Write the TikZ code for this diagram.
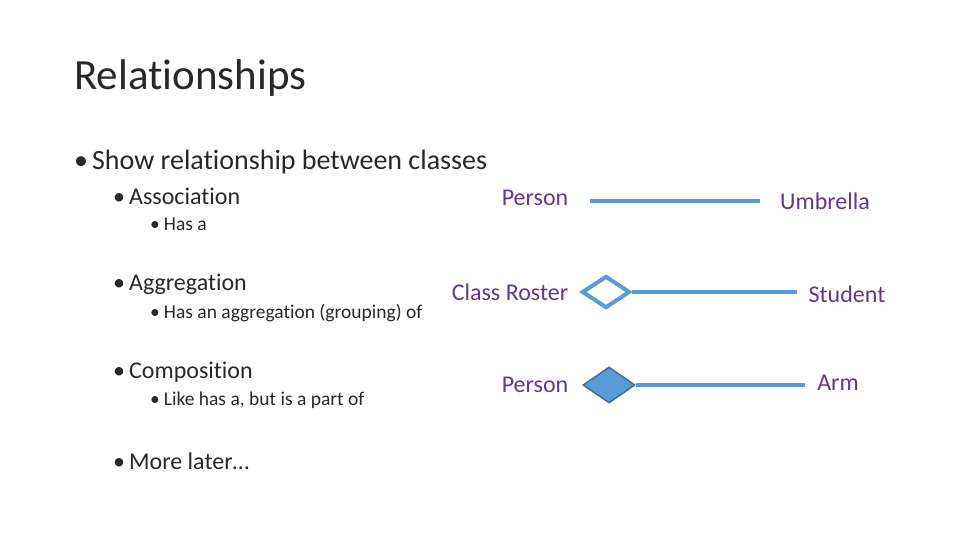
\documentclass[tikz,border=0pt]{standalone}
\usepackage{fontspec}
\setmainfont[Ligatures={NoCommon,NoContextual}]{Carlito}
\usetikzlibrary{shapes.geometric, positioning}
\definecolor{linkblue}{RGB}{91, 155, 213}
\definecolor{classpurple}{RGB}{100, 55, 140}
\definecolor{textgray}{RGB}{40, 40, 40}

\begin{document}
\begin{tikzpicture}[x=1pt, y=-1pt,
        title/.style={anchor=west, text=textgray, font=\fontsize{43}{50}\selectfont, inner sep=0pt},
        lvlone/.style={anchor=west, text=textgray, font=\fontsize{28}{33}\selectfont, inner sep=0pt},
        lvltwo/.style={anchor=west, text=textgray, font=\fontsize{24}{29}\selectfont, inner sep=0pt},
        lvlthree/.style={anchor=west, text=textgray, font=\fontsize{19.5}{23}\selectfont, inner sep=0pt},
        classname/.style={text=classpurple, font=\fontsize{24}{29}\selectfont, inner sep=0pt},
        link/.style={draw=linkblue, line width=4pt},
        hollow/.style={diamond, draw=linkblue, line width=4pt, fill=white, minimum width=48pt, minimum height=32pt, inner sep=0pt},
        filleddia/.style={diamond, draw=linkblue!70!black, line width=1.5pt, fill=linkblue, minimum width=52pt, minimum height=36pt, inner sep=0pt}
    ]
        \useasboundingbox (0,0) rectangle (960,540);

        % bullet text
        \node[title] (ttl) at (74,78) {Relationships};
        \node[lvlone] (b1) at (74,162) {\textbullet\hspace{4pt}Show relationship between classes};
        \node[lvltwo] (b2) at (113,196) {\textbullet\hspace{4pt}Association};
        \node[lvlthree] (b3) at (150,224) {\textbullet\hspace{4pt}Has a};
        \node[lvltwo] (b4) at (113,284) {\textbullet\hspace{4pt}Aggregation};
        \node[lvlthree] (b5) at (150,313) {\textbullet\hspace{4pt}Has an aggregation (grouping) of};
        \node[lvltwo] (b6) at (113,372) {\textbullet\hspace{4pt}Composition};
        \node[lvlthree] (b7) at (150,400) {\textbullet\hspace{4pt}Like has a, but is a part of};
        \node[lvltwo] (b8) at (113,461) {\textbullet\hspace{4pt}More later\dots};

        % association
        \node[classname] (person) at (535,198) {Person};
        \node[classname] (umbrella) at (825,201) {Umbrella};
        \coordinate (asA) at (590,201);
        \coordinate (asB) at (760,201);
        \draw[link] (asA) -- (asB);

        % aggregation
        \node[classname] (roster) at (510,292) {Class Roster};
        \node[classname] (student) at (847,294) {Student};
        \node[hollow] (agg) at (606,292) {};
        \coordinate (agB) at (797,292);
        \draw[link] (agg.east) -- (agB);

        % composition
        \node[classname] (owner) at (535,385) {Person};
        \node[classname] (arm) at (838,383) {Arm};
        \node[filleddia] (comp) at (609,385) {};
        \coordinate (coB) at (805,385);
        \draw[link] (comp.east) -- (coB);
    \end{tikzpicture}
\end{document}
